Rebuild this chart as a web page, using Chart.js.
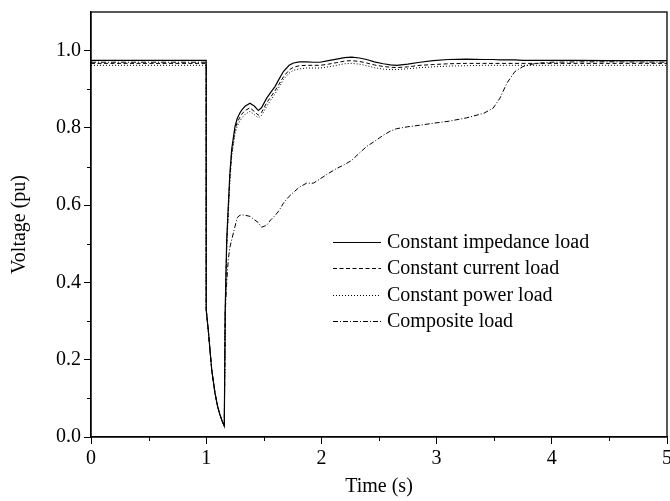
<!DOCTYPE html>
<html>
<head>
<meta charset="utf-8">
<script src="https://cdn.jsdelivr.net/npm/chart.js@4"></script>
<style>
  html, body { margin: 0; padding: 0; background: #fff; }
  #wrap { width: 670px; height: 501px; }
</style>
</head>
<body>
<div id="wrap"><canvas id="myChart" width="670" height="501"></canvas></div>
<script>
'use strict'

// data

var timeS = [0, 1.0, 1.0, 1.018, 1.03, 1.048, 1.076, 1.1, 1.12, 1.14, 1.157, 1.165, 1.178, 1.192, 1.205, 1.221,
  1.25, 1.27, 1.293, 1.31, 1.337, 1.38, 1.42, 1.452, 1.48, 1.525, 1.56, 1.597, 1.63, 1.67, 1.72, 1.757, 1.81,
  1.872, 1.93, 1.988, 2.06, 2.133, 2.2, 2.263, 2.33, 2.393, 2.46, 2.537, 2.6, 2.653, 2.75, 2.856, 2.97, 3.1,
  3.26, 3.41, 3.49, 3.55, 3.61, 3.68, 3.75, 3.83, 3.9, 4.0, 4.25, 4.5, 5.0];

var impedanceLoad = [0.975, 0.975, 0.33, 0.277, 0.235, 0.174, 0.114, 0.078, 0.057, 0.040, 0.028, 0.33, 0.51, 0.60, 0.68, 0.744,
  0.804, 0.825, 0.839, 0.847, 0.856, 0.864, 0.856, 0.845, 0.852, 0.877, 0.892, 0.907, 0.925, 0.946, 0.962, 0.968, 0.971,
  0.971, 0.970, 0.970, 0.974, 0.978, 0.982, 0.983, 0.981, 0.977, 0.971, 0.966, 0.963, 0.962, 0.965, 0.970, 0.974, 0.977,
  0.978, 0.977, 0.977, 0.976, 0.976, 0.976, 0.975, 0.975, 0.975, 0.975, 0.975, 0.974, 0.974];

var currentLoad = [0.967, 0.967, 0.33, 0.277, 0.235, 0.174, 0.114, 0.078, 0.057, 0.040, 0.028, 0.32, 0.50, 0.59, 0.67, 0.735,
  0.795, 0.815, 0.828, 0.836, 0.845, 0.852, 0.842, 0.833, 0.840, 0.865, 0.880, 0.896, 0.912, 0.932, 0.950, 0.957, 0.961,
  0.962, 0.962, 0.962, 0.965, 0.969, 0.973, 0.974, 0.972, 0.968, 0.963, 0.959, 0.957, 0.956, 0.958, 0.962, 0.964, 0.966,
  0.967, 0.967, 0.967, 0.967, 0.967, 0.967, 0.967, 0.967, 0.967, 0.967, 0.967, 0.967, 0.967];

var powerLoad = [0.962, 0.962, 0.33, 0.277, 0.235, 0.174, 0.114, 0.078, 0.057, 0.040, 0.028, 0.31, 0.49, 0.58, 0.66, 0.725,
  0.785, 0.805, 0.818, 0.826, 0.835, 0.843, 0.834, 0.826, 0.832, 0.856, 0.872, 0.888, 0.904, 0.925, 0.942, 0.949, 0.953,
  0.955, 0.955, 0.955, 0.958, 0.962, 0.966, 0.967, 0.965, 0.961, 0.956, 0.952, 0.951, 0.951, 0.953, 0.956, 0.958, 0.960,
  0.961, 0.962, 0.962, 0.962, 0.962, 0.962, 0.962, 0.962, 0.962, 0.962, 0.962, 0.962, 0.962];

var compositeLoad = [0.970, 0.970, 0.33, 0.277, 0.235, 0.174, 0.114, 0.078, 0.057, 0.040, 0.028, 0.32, 0.40, 0.46, 0.49, 0.51,
  0.545, 0.568, 0.574, 0.575, 0.574, 0.571, 0.562, 0.555, 0.543, 0.548, 0.562, 0.573, 0.585, 0.605, 0.623, 0.633, 0.647,
  0.657, 0.657, 0.668, 0.682, 0.695, 0.705, 0.716, 0.735, 0.752, 0.765, 0.781, 0.792, 0.798, 0.803, 0.807, 0.812, 0.817,
  0.826, 0.838, 0.851, 0.877, 0.916, 0.946, 0.959, 0.965, 0.968, 0.970, 0.971, 0.971, 0.970];

var seriesLabels = ['Constant impedance load', 'Constant current load', 'Constant power load', 'Composite load'];
var xTicks = [0, 1, 2, 3, 4, 5];
var yTicks = [0, 0.2, 0.4, 0.6, 0.8, 1.0];

function points(values) {
  return values.map(function(v, i) { return { x: timeS[i], y: v }; });
}

var FONT = 'Liberation Serif';

// frame, minor ticks and the legend inside the plot

var extras = {
  id: 'extras',
  afterDraw: function(chart) {
    var ctx = chart.ctx;
    var area = chart.chartArea;
    var xs = chart.scales.x, ys = chart.scales.y;
    ctx.save();
    ctx.strokeStyle = '#000';
    ctx.lineWidth = 1.3;
    ctx.strokeRect(area.left, area.top, area.right - area.left, area.bottom - area.top);

    ctx.lineWidth = 1;
    ctx.beginPath();
    for (var t = 0.5; t < 5; t += 1) {
      var px = Math.round(xs.getPixelForValue(t)) + 0.5;
      ctx.moveTo(px, area.bottom);
      ctx.lineTo(px, area.bottom + 4);
    }
    for (var v = 0.1; v < 1.05; v += 0.2) {
      var py = Math.round(ys.getPixelForValue(v)) + 0.5;
      ctx.moveTo(area.left, py);
      ctx.lineTo(area.left - 4, py);
    }
    ctx.stroke();

    // legend
    var x0 = 333, x1 = 381, y0 = 242, dy = 26.3;
    ctx.font = '20px "' + FONT + '"';
    ctx.textBaseline = 'middle';
    ctx.fillStyle = '#000';
    chart.data.datasets.forEach(function(ds, i) {
      var y = Math.round(y0 + i * dy) + 0.5;
      ctx.beginPath();
      ctx.setLineDash(ds.borderDash || []);
      ctx.lineWidth = ds.borderWidth;
      ctx.moveTo(x0, y);
      ctx.lineTo(x1, y);
      ctx.stroke();
      ctx.setLineDash([]);
      ctx.fillText(ds.label, 387, y);
    });
    ctx.restore();
  }
};

var ctx = document.getElementById('myChart').getContext('2d');

var chart = new Chart(ctx, {
  type: 'line',
  data: {
    datasets: [{
      label: seriesLabels[0],
      data: points(impedanceLoad),
      borderColor: '#000',
      borderWidth: 1.2,
      borderDash: []
    },
    {
      label: seriesLabels[1],
      data: points(currentLoad),
      borderColor: '#000',
      borderWidth: 1,
      borderDash: [4, 2.5]
    },
    {
      label: seriesLabels[2],
      data: points(powerLoad),
      borderColor: '#000',
      borderWidth: 1,
      borderDash: [1, 2]
    },
    {
      label: seriesLabels[3],
      data: points(compositeLoad),
      borderColor: '#000',
      borderWidth: 1,
      borderDash: [5, 2, 1, 2]
    }]
  },
  options: {
    responsive: false,
    devicePixelRatio: 1,
    animation: false,
    events: [],
    layout: { padding: { top: 12, right: 3, left: 0, bottom: 0 } },
    elements: {
      point: { radius: 0 },
      line: { tension: 0, fill: false }
    },
    plugins: {
      legend: { display: false },
      tooltip: { enabled: false }
    },
    scales: {
      x: {
        type: 'linear',
        min: 0,
        max: 5,
        afterBuildTicks: function(s) { s.ticks = xTicks.map(function(v) { return { value: v }; }); },
        ticks: {
          color: '#000',
          font: { family: FONT, size: 20 },
          padding: 3,
          maxRotation: 0,
          callback: function(v) { return String(v); }
        },
        grid: { drawOnChartArea: false, tickLength: 7, tickColor: '#000', tickWidth: 1 },
        border: { display: true, color: '#000', width: 1.3 },
        title: {
          display: true,
          text: 'Time (s)',
          color: '#000',
          font: { family: FONT, size: 20 },
          padding: { top: 0, bottom: 2 }
        },
        afterFit: function(s) {
          s.height = 64;
          // let the last label run off the edge like the original
          s.paddingRight = 0;
          s.paddingLeft = 0;
        }
      },
      y: {
        min: 0,
        max: 1.1,
        afterBuildTicks: function(s) { s.ticks = yTicks.map(function(v) { return { value: v }; }); },
        ticks: {
          color: '#000',
          font: { family: FONT, size: 20 },
          padding: 3,
          callback: function(v) { return v.toFixed(1); }
        },
        grid: { drawOnChartArea: false, tickLength: 7, tickColor: '#000', tickWidth: 1 },
        border: { display: true, color: '#000', width: 1.3 },
        title: {
          display: true,
          text: 'Voltage (pu)',
          color: '#000',
          font: { family: FONT, size: 20 },
          padding: { top: 8, bottom: 0 }
        },
        afterFit: function(s) {
          s.width = 91;
          s.paddingTop = 0;
          s.paddingBottom = 0;
        }
      }
    }
  },
  plugins: [extras]
});
</script>
</body>
</html>
